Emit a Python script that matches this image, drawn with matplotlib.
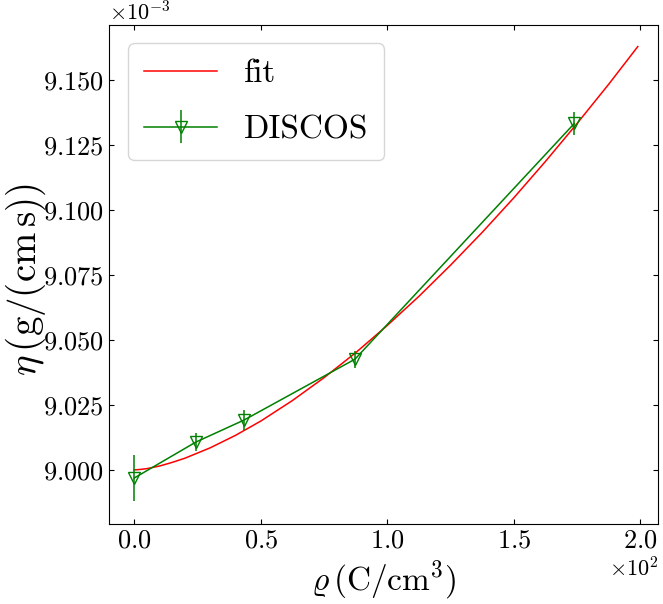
import numpy as np
import matplotlib
matplotlib.use("Agg")
import matplotlib.pyplot as plt
import matplotlib.ticker as ticker

plt.rcParams["font.family"] = "serif"
plt.rcParams["font.serif"] = ["cmr10", "DejaVu Serif"]
plt.rcParams["mathtext.fontset"] = "cm"
plt.rcParams["axes.formatter.use_mathtext"] = True
plt.rcParams["axes.unicode_minus"] = True

# DISCOS data: rho in C/cm^3, eta in g/(cm s)
rho_discos = [0.0, 24.3, 43.4, 87.2, 173.9]
eta_discos = [8.9969e-3, 9.0107e-3, 9.0192e-3, 9.0426e-3, 9.1333e-3]
eta_err = [0.0087e-3, 0.0034e-3, 0.0038e-3, 0.0033e-3, 0.0043e-3]

# fit curve, values
rho_fit = [0.0, 2.5, 5.0, 10.0, 15.0, 20.0, 30.0, 40.0, 50.0, 62.5, 75.0,
           87.5, 100.0, 112.5, 125.0, 137.5, 150.0, 162.5, 175.0, 187.5, 199.0]
eta_fit = [9.0000e-3, 9.0002e-3, 9.0005e-3, 9.0015e-3, 9.0029e-3, 9.0045e-3,
           9.0085e-3, 9.0133e-3, 9.0188e-3, 9.0267e-3, 9.0355e-3, 9.0451e-3,
           9.0556e-3, 9.0668e-3, 9.0788e-3, 9.0914e-3, 9.1047e-3, 9.1187e-3,
           9.1333e-3, 9.1484e-3, 9.1629e-3]

fig = plt.figure(figsize=(6.63, 6.04), dpi=100)
ax = fig.add_axes([0.1644, 0.1325, 0.8281, 0.8261])

ax.plot(rho_fit, eta_fit, color="red", lw=1.1, label="fit")
ax.errorbar(rho_discos, eta_discos, yerr=eta_err, fmt="v-", color="green",
            mfc="none", ms=9, lw=1.1, elinewidth=1.1, capsize=0, label="DISCOS")

ax.set_xlim(-10, 207)
ax.set_ylim(8.9792e-3, 9.1712e-3)
ax.xaxis.set_major_locator(ticker.MultipleLocator(50))
ax.yaxis.set_major_locator(ticker.MultipleLocator(0.025e-3))
ax.ticklabel_format(axis="both", style="sci", scilimits=(0, 0), useMathText=True)

ax.tick_params(direction="in", top=True, right=True, labelsize=19)
ax.xaxis.get_offset_text().set_fontsize(16)
ax.yaxis.get_offset_text().set_fontsize(16)

ax.set_xlabel(r"$\varrho\,(\mathrm{C/cm^3})$", fontsize=24)
ax.set_ylabel(r"$\eta\,(\mathrm{g/(cm\,s)})$", fontsize=28)
ax.yaxis.set_label_coords(-0.111, 0.49)

ax.legend(loc="upper left", bbox_to_anchor=(0.0346, 0.964), borderaxespad=0,
          fontsize=24, handlelength=2.2, labelspacing=0.8, borderpad=0.48)

plt.savefig("out.png", dpi=100)
plt.close()
